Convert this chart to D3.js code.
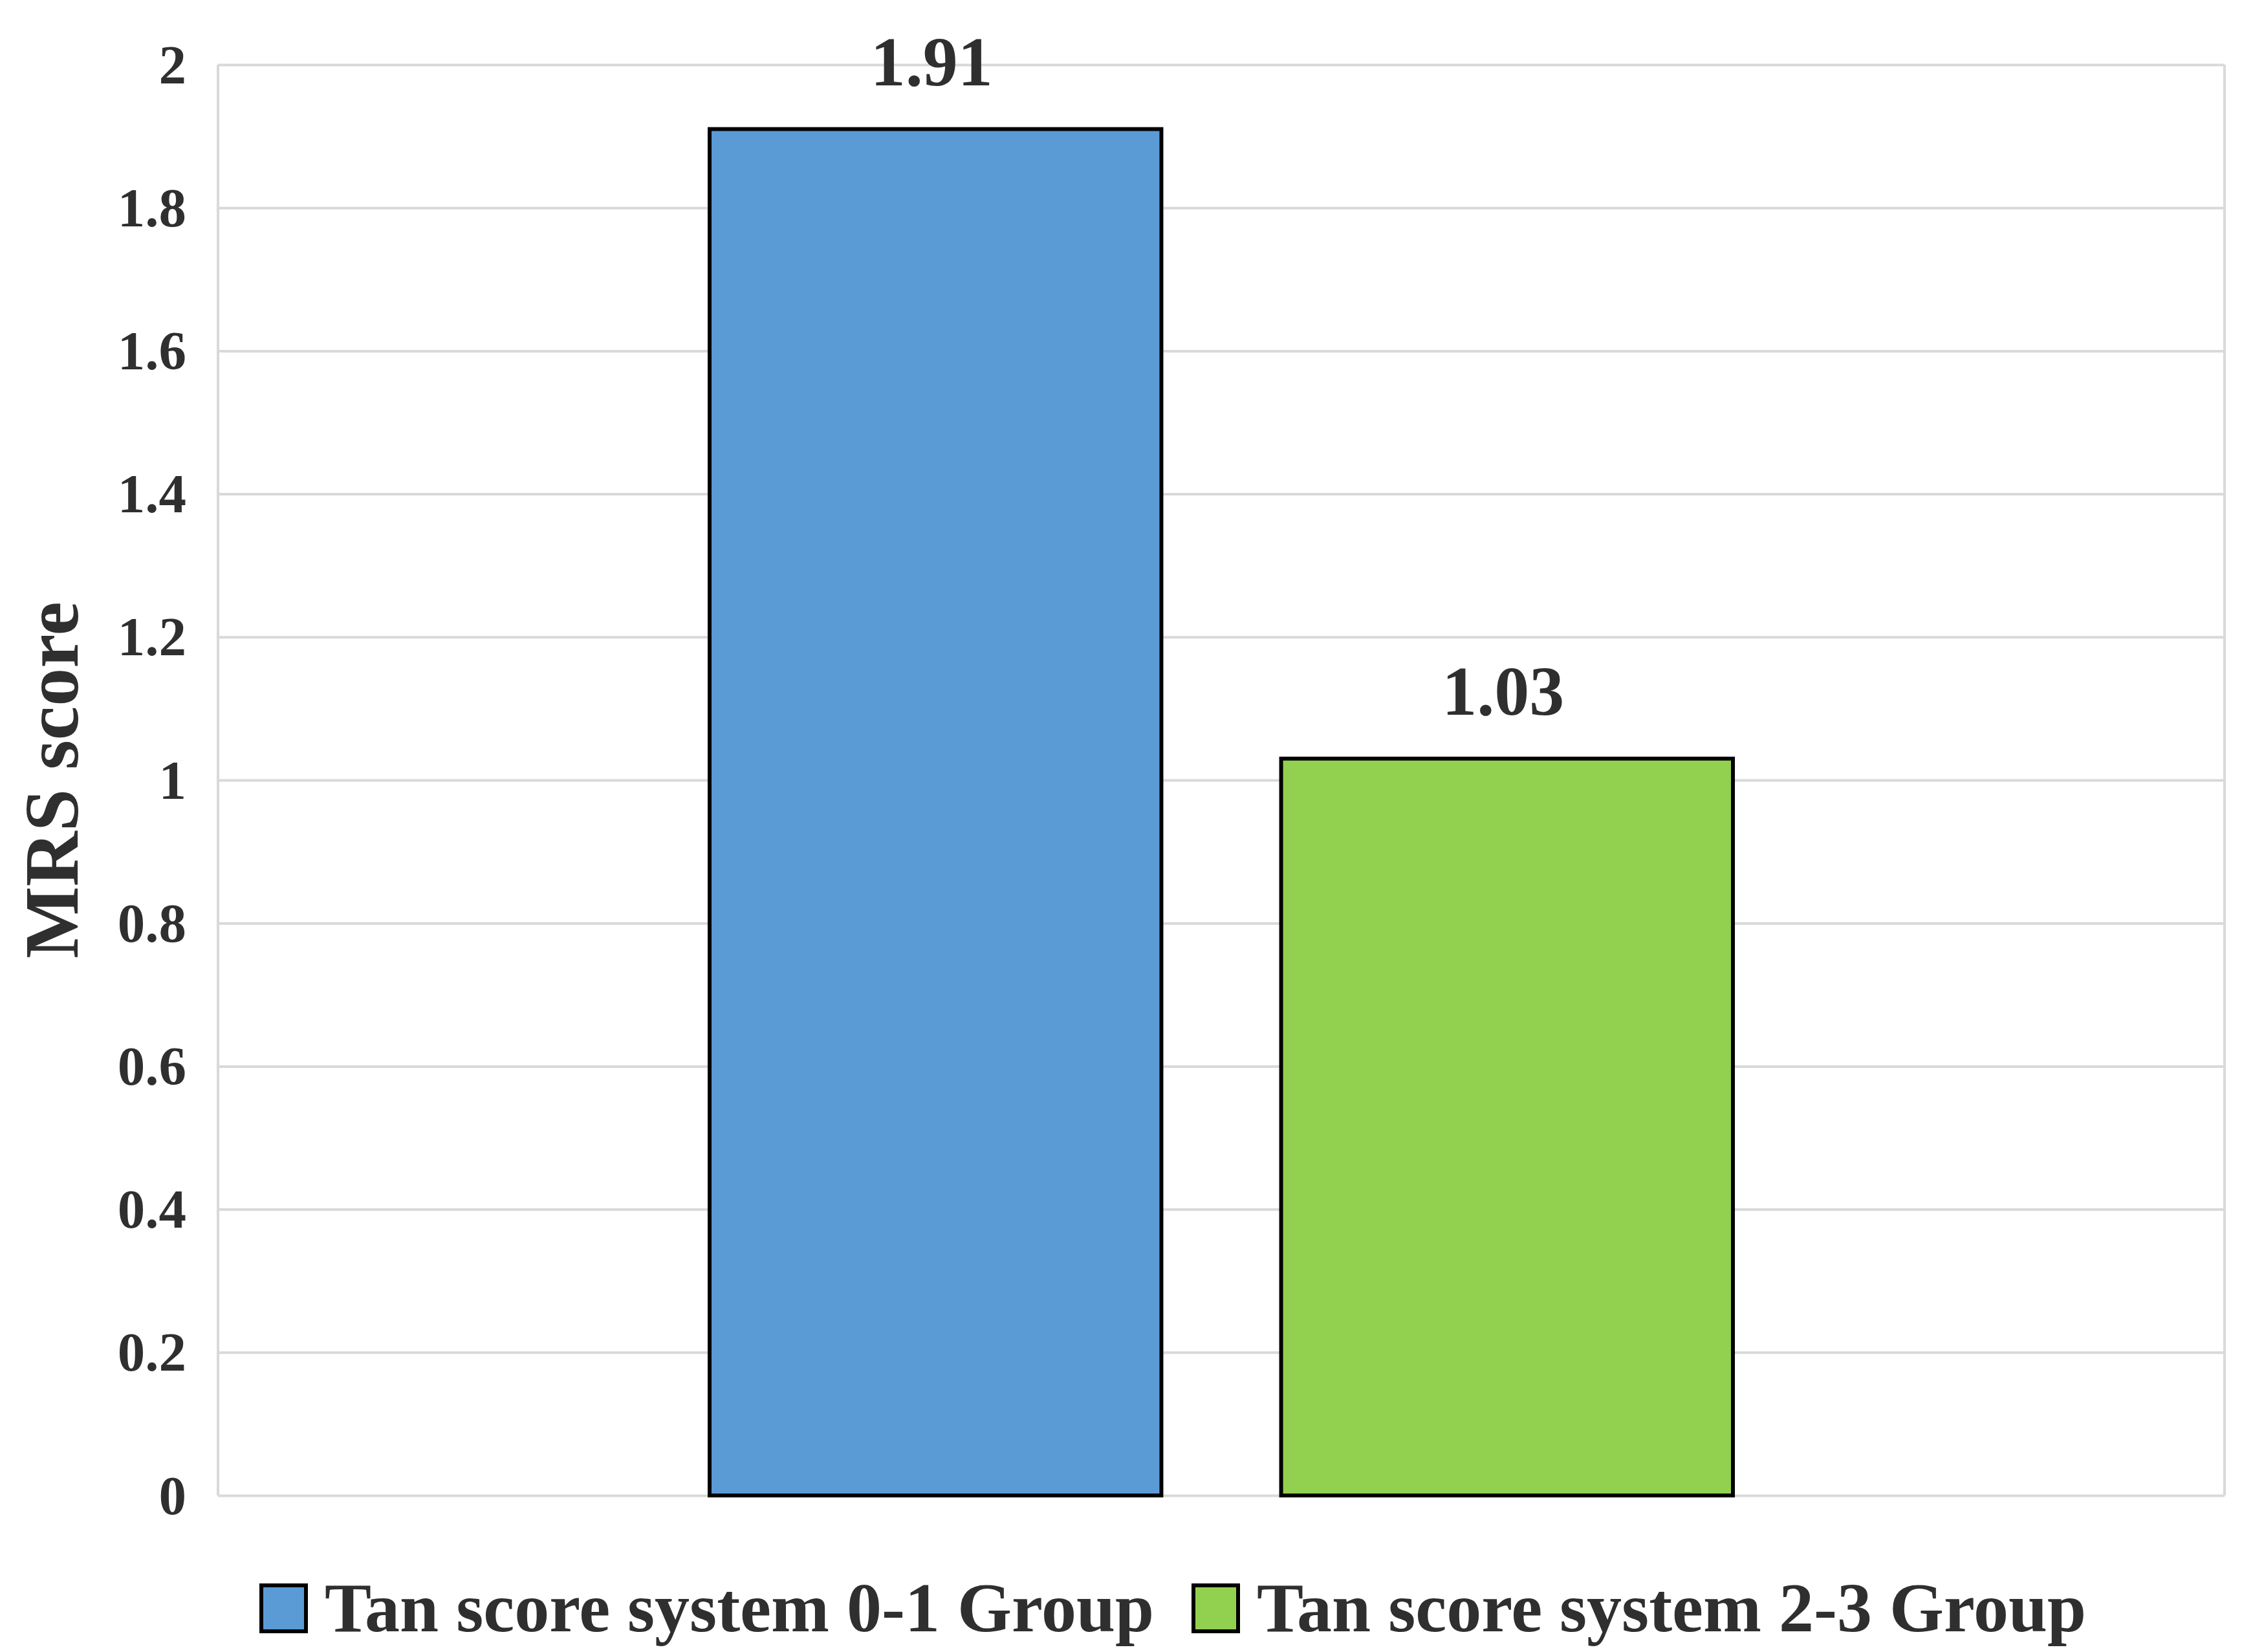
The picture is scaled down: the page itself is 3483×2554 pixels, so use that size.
<!DOCTYPE html>
<html>
<head>
<meta charset="utf-8">
<script src="https://cdn.jsdelivr.net/npm/d3@7"></script>
<style>
  html, body { margin: 0; padding: 0; background: #fff; overflow: hidden; }
  svg { display: block; }
  text { font-family: "Liberation Serif", "DejaVu Serif", serif; font-weight: bold; fill: #2f2f2f; }
</style>
</head>
<body>
<svg id="mainsvg" width="3483" height="2554"></svg>
<script>
// data
const groups = [''];
const seriesNames = ['Tan score system 0-1 Group', 'Tan score system 2-3 Group'];
const seriesValues = [1.91, 1.03];
const valueLabels = ['1.91', '1.03'];
const seriesColors = ['#5B9BD5', '#92D050'];
const yTickValues = [0, 0.2, 0.4, 0.6, 0.8, 1, 1.2, 1.4, 1.6, 1.8, 2];
const yTickLabels = ['0', '0.2', '0.4', '0.6', '0.8', '1', '1.2', '1.4', '1.6', '1.8', '2'];
const yTitle = 'MRS score';

const svg = d3.select('#mainsvg');
const width = +svg.attr('width');
const height = +svg.attr('height');
const margin = { top: 100, right: 44, bottom: 242, left: 337 };
const innerWidth = width - margin.left - margin.right;
const innerHeight = height - margin.top - margin.bottom;

const render = function() {
    const yScale = d3.scaleLinear().domain([0, 2]).range([innerHeight, 0]);

    const x0 = d3.scaleBand().domain(groups).range([0, innerWidth]).padding(0.3245);
    const x1 = d3.scaleBand().domain(seriesNames).range([0, x0.bandwidth()])
        .paddingInner(0.2095).paddingOuter(0);

    const g = svg.append('g').attr('id', 'maingroup')
        .attr('transform', `translate(${margin.left}, ${margin.top})`);

    // gridlines
    const grid = d3.axisLeft(yScale).tickValues(yTickValues).tickSize(-innerWidth).tickFormat('');
    g.append('g').call(grid)
        .call(s => s.select('.domain').remove())
        .selectAll('line').attr('stroke', '#D9D9D9').attr('stroke-width', 4);

    // left axis line + right border
    g.append('line').attr('x1', 0).attr('x2', 0).attr('y1', 0).attr('y2', innerHeight)
        .attr('stroke', '#D9D9D9').attr('stroke-width', 4);
    g.append('line').attr('x1', innerWidth).attr('x2', innerWidth).attr('y1', 0).attr('y2', innerHeight)
        .attr('stroke', '#D9D9D9').attr('stroke-width', 4);

    // y axis labels
    const yAxis = d3.axisLeft(yScale).tickValues(yTickValues)
        .tickFormat((d, i) => yTickLabels[i]).tickSize(0).tickPadding(49);
    const ya = g.append('g').call(yAxis);
    ya.select('.domain').remove();
    ya.selectAll('text')
        .style('font-family', '"Liberation Serif", serif')
        .attr('font-size', 85).attr('dy', 28);

    // bars
    const bg = g.append('g').attr('transform', `translate(${x0(groups[0])}, 0)`);
    seriesNames.forEach((name, i) => {
        bg.append('rect')
            .attr('x', x1(name))
            .attr('y', yScale(seriesValues[i]))
            .attr('width', x1.bandwidth())
            .attr('height', innerHeight - yScale(seriesValues[i]))
            .attr('fill', seriesColors[i])
            .attr('stroke', '#000')
            .attr('stroke-width', 6);

        bg.append('text').text(valueLabels[i])
            .attr('x', x1(name) + x1.bandwidth() / 2 - 6)
            .attr('y', yScale(seriesValues[i]) - 68)
            .attr('text-anchor', 'middle')
            .attr('font-size', 108);
    });

    // y title
    svg.append('text').text(yTitle)
        .attr('transform', `translate(120, ${margin.top + innerHeight / 2}) rotate(-90)`)
        .attr('text-anchor', 'middle')
        .attr('font-size', 118);

    // legend
    const legendX = [404, 1845];
    const lg = svg.append('g').attr('transform', 'translate(0, 2522)');
    seriesNames.forEach((name, i) => {
        lg.append('rect')
            .attr('x', legendX[i]).attr('y', -71)
            .attr('width', 69).attr('height', 71)
            .attr('fill', seriesColors[i])
            .attr('stroke', '#000').attr('stroke-width', 6);
        lg.append('text').text(name)
            .attr('x', legendX[i] + 98).attr('y', 0)
            .attr('font-size', 108);
    });
};

render();
</script>
</body>
</html>
